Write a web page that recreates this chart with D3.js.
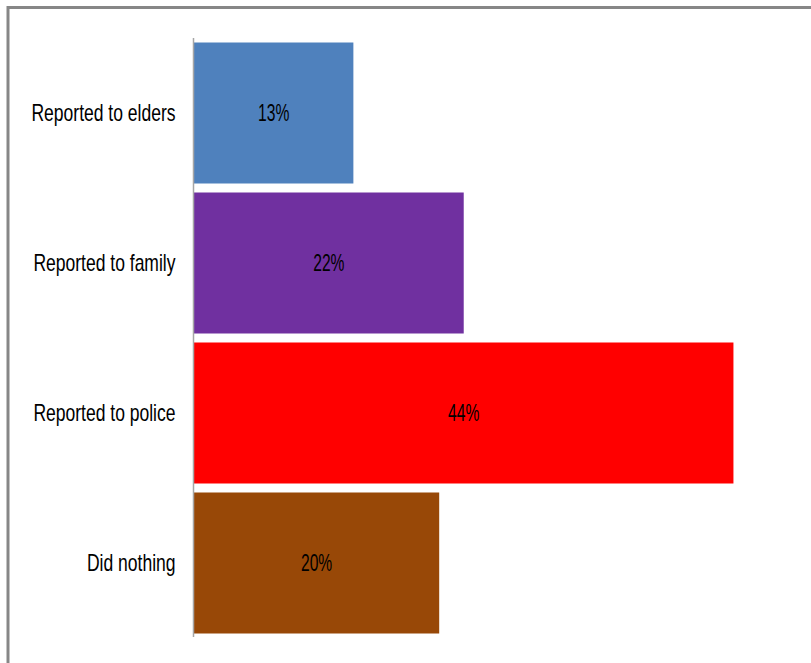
<!DOCTYPE html>
<html>
<head>
<meta charset="utf-8">
<script src="https://cdn.jsdelivr.net/npm/d3@7"></script>
<style>
  html, body { margin: 0; padding: 0; background: #fff; }
  svg { display: block; }
</style>
</head>
<body>
<svg id="chart" width="811" height="663"></svg>
<script>
// Responses, in display order from top to bottom
const categories = ["Reported to elders", "Reported to family", "Reported to police", "Did nothing"];
const values = [13, 22, 44, 20];
const valueLabels = ["13%", "22%", "44%", "20%"];
const barColors = ["#4F81BD", "#7030A0", "#FF0000", "#984807"];

const svg = d3.select("#chart");

// Chart frame (extends past the right and bottom edges)
svg.append("rect")
  .attr("x", 8).attr("y", 7.5)
  .attr("width", 900).attr("height", 700)
  .attr("fill", "none")
  .attr("stroke", "#878787")
  .attr("stroke-width", 3);

const x = d3.scaleLinear().domain([0, 50]).range([194, 807]);
const y = d3.scaleBand()
  .domain(categories)
  .range([38, 638])
  .paddingInner(0.06)
  .paddingOuter(0.03);

const font = "'Liberation Sans', Arial, sans-serif";
// Condensed look: squeeze glyphs horizontally
const labelSqueeze = 0.73;
const valueSqueeze = 0.68;

// Bars
svg.append("g").selectAll("rect")
  .data(categories)
  .join("rect")
  .attr("x", x(0))
  .attr("y", d => y(d))
  .attr("width", (d, i) => x(values[i]) - x(0))
  .attr("height", y.bandwidth())
  .attr("fill", (d, i) => barColors[i]);

// Value labels centered in each bar
svg.append("g").selectAll("text")
  .data(categories)
  .join("text")
  .attr("transform", (d, i) =>
    `translate(${(x(0) + x(values[i])) / 2},${y(d) + y.bandwidth() / 2}) scale(${valueSqueeze},1)`)
  .attr("dy", "0.35em")
  .attr("text-anchor", "middle")
  .style("font-family", font)
  .style("font-size", "23px")
  .attr("fill", "#000")
  .text((d, i) => valueLabels[i]);

// Category axis
const axis = d3.axisLeft(y).tickSize(0).tickPadding(18);
const gAxis = svg.append("g")
  .attr("transform", `translate(${x(0) - 0.5},0)`)
  .call(axis);
gAxis.select(".domain")
  .attr("stroke", "#a6a6a6")
  .attr("stroke-width", 1.5)
  .attr("d", "M0,38V637");
gAxis.selectAll(".tick text")
  .attr("transform", `scale(${labelSqueeze},1)`)
  .attr("x", -18 / labelSqueeze)
  .style("font-family", font)
  .style("font-size", "24px")
  .attr("fill", "#000");
</script>
</body>
</html>
